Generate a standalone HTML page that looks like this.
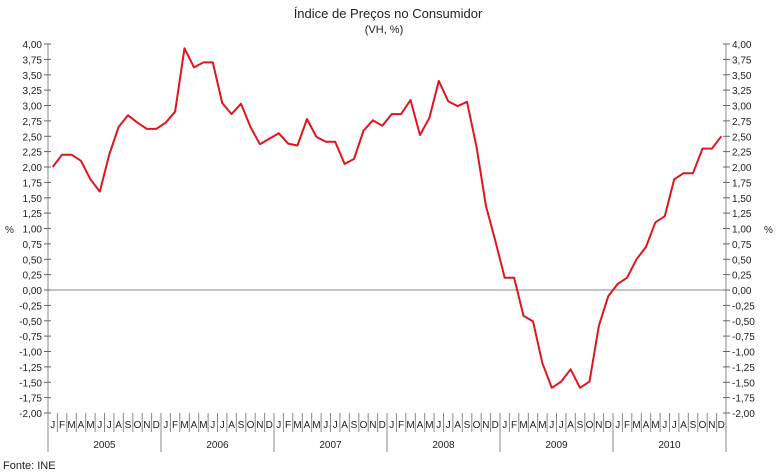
<!DOCTYPE html>
<html><head><meta charset="utf-8"><style>body{margin:0;background:#fff}svg{display:block;font-family:"Liberation Sans",sans-serif}</style></head><body>
<svg width="777" height="474" xmlns="http://www.w3.org/2000/svg">
<text x="388" y="18" font-size="13" text-anchor="middle" fill="#222">Índice de Preços no Consumidor</text>
<text x="384" y="33" font-size="11" text-anchor="middle" fill="#222">(VH, %)</text>
<g id="g"></g>
<text x="3" y="469" font-size="11" fill="#222">Fonte: INE</text>
</svg>
<script>
const g=document.getElementById('g');let s='';
const L=48,R=726,y=v=>290-v*61.5;
s+=`<line x1="${L}" y1="44" x2="${L}" y2="413" stroke="#888"/><line x1="${R}" y1="44" x2="${R}" y2="413" stroke="#888"/>`;
s+=`<line x1="${L}" y1="290" x2="${R}" y2="290" stroke="#888"/>`;
for(let i=0;i<=24;i++){const v=4-i*0.25,yy=y(v).toFixed(1);const t=v.toFixed(2).replace('.',',');
s+=`<line x1="${L-4}" y1="${yy}" x2="${L+3}" y2="${yy}" stroke="#666"/><line x1="${R-3}" y1="${yy}" x2="${R+4}" y2="${yy}" stroke="#666"/>`;
s+=`<text x="${L-6}" y="${+yy+4}" font-size="10" text-anchor="end" fill="#222">${t}</text><text x="${R+6}" y="${+yy+4}" font-size="10" fill="#222">${t}</text>`;}
s+=`<text x="5" y="233" font-size="10" fill="#222">%</text><text x="764" y="233" font-size="10" fill="#222">%</text>`;
const w=(R-L)/72,m="JFMAMJJASOND";
for(let i=0;i<=72;i++){const x=(L+i*w).toFixed(1);const yr=i%12==0;
s+=`<line x1="${x}" y1="413" x2="${x}" y2="${yr?452:432}" stroke="#888"/>`;
if(i<72)s+=`<text x="${(L+i*w+w/2).toFixed(1)}" y="428" font-size="10" text-anchor="middle" fill="#222">${m[i%12]}</text>`;}
for(let k=0;k<6;k++)s+=`<text x="${(L+(k*12+6)*w).toFixed(1)}" y="448" font-size="10" text-anchor="middle" fill="#222">${2005+k}</text>`;
const d=[2.0,2.2,2.2,2.1,1.8,1.6,2.2,2.65,2.84,2.72,2.62,2.62,
2.72,2.9,3.93,3.62,3.7,3.7,3.04,2.86,3.03,2.65,2.37,2.46,
2.55,2.38,2.35,2.78,2.49,2.41,2.41,2.05,2.13,2.59,2.76,2.67,
2.86,2.86,3.09,2.52,2.8,3.4,3.07,2.99,3.06,2.33,1.37,0.8,
0.2,0.2,-0.42,-0.51,-1.19,-1.59,-1.49,-1.29,-1.59,-1.49,-0.58,-0.1,
0.1,0.2,0.5,0.7,1.1,1.2,1.8,1.9,1.9,2.3,2.3,2.5];
s+=`<polyline fill="none" stroke="#e0161e" stroke-width="2" stroke-linejoin="round" points="${d.map((v,i)=>(L+w/2+i*w).toFixed(1)+','+y(v).toFixed(1)).join(' ')}"/>`;
g.innerHTML=s;
</script>
</body></html>
